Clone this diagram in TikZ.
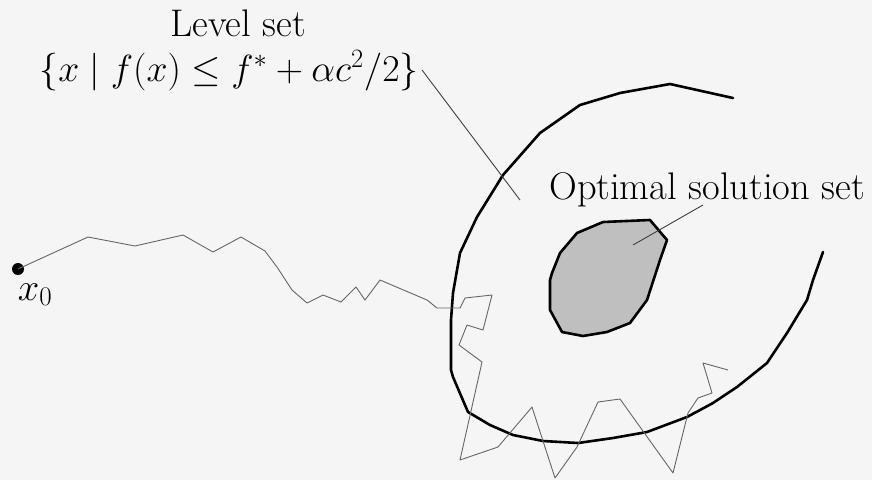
\RequirePackage{fix-cm}
\documentclass[tikz,border=0pt]{standalone}
\begin{document}
\begin{tikzpicture}[x=1pt,y=-1pt,
  lbl/.style={inner sep=0pt, font=\fontsize{38.5}{46}\selectfont},
  boundary/.style={line width=2.6pt, line join=round, line cap=round},
  walk/.style={line width=0.9pt, draw=black!60, line join=round},
  leader/.style={line width=0.9pt, draw=black!75},
  optset/.style={line width=2.6pt, line join=round, fill=black!25}]
\fill[black!4] (0,0) rectangle (872,480);
\useasboundingbox (0,0) rectangle (872,480);

% labels
\node[lbl, anchor=base] (lvl) at (238,36) {Level set};
\node[lbl, anchor=base, font=\fontsize{37.8}{46}\selectfont] (fml) at (229,81) {$\{x \mid f(x) \le f^* + \alpha c^2/2\}$};
\node[lbl, anchor=base] (opt) at (707,199) {Optimal solution set};

% optimal solution set
\draw[optset] (603,222) -- (650,220) -- (667,240) -- (660,260) -- (647,300)
  -- (630,323) -- (607,332) -- (583,336) -- (562,332) -- (550,310)
  -- (550,280) -- (552,273) -- (560,253) -- (577,233) -- cycle;

% level set boundary
\draw[boundary] (733,98) -- (670,84) -- (620,93) -- (580,105) -- (540,133)
  -- (503,175) -- (477,217) -- (460,253) -- (453,293) -- (451,320)
  -- (451,370) -- (453,377) -- (468,412) -- (490,425)
  -- (513,435) -- (543,441) -- (578,443) -- (613,438) -- (647,432)
  -- (687,417) -- (713,403) -- (737,387) -- (767,363) -- (787,333)
  -- (807,300) -- (813,280) -- (823,252);

% start point
\coordinate (x0) at (18,269);
\fill (x0) circle (6);
\node[lbl, anchor=base] (x0lbl) at (35,300) {$x_0$};

% iterates
\draw[walk] (x0) -- (88,237) -- (135,246) -- (183,235) -- (213,252) -- (241,237)
  -- (265,251) -- (277,267) -- (292,290) -- (307,303) -- (323,295)
  -- (341,302) -- (356,287) -- (365,300) -- (380,280) -- (427,300)
  -- (437,308) -- (460,308) -- (465,298) -- (492,295) -- (483,330)
  -- (467,325) -- (459,345) -- (482,362) -- (460,460) -- (498,447)
  -- (532,407) -- (555,478) -- (577,447) -- (598,402) -- (620,399)
  -- (673,473) -- (688,413) -- (698,398) -- (712,393) -- (703,363)
  -- (728,370);

% leaders
\coordinate (lvlend) at (520,200);
\coordinate (lvlstart) at (422,70);
\draw[leader] (lvlstart) -- (lvlend);
\coordinate (optstart) at (703,205);
\coordinate (optend) at (633,245);
\draw[leader] (optstart) -- (optend);
\end{tikzpicture}
\end{document}
